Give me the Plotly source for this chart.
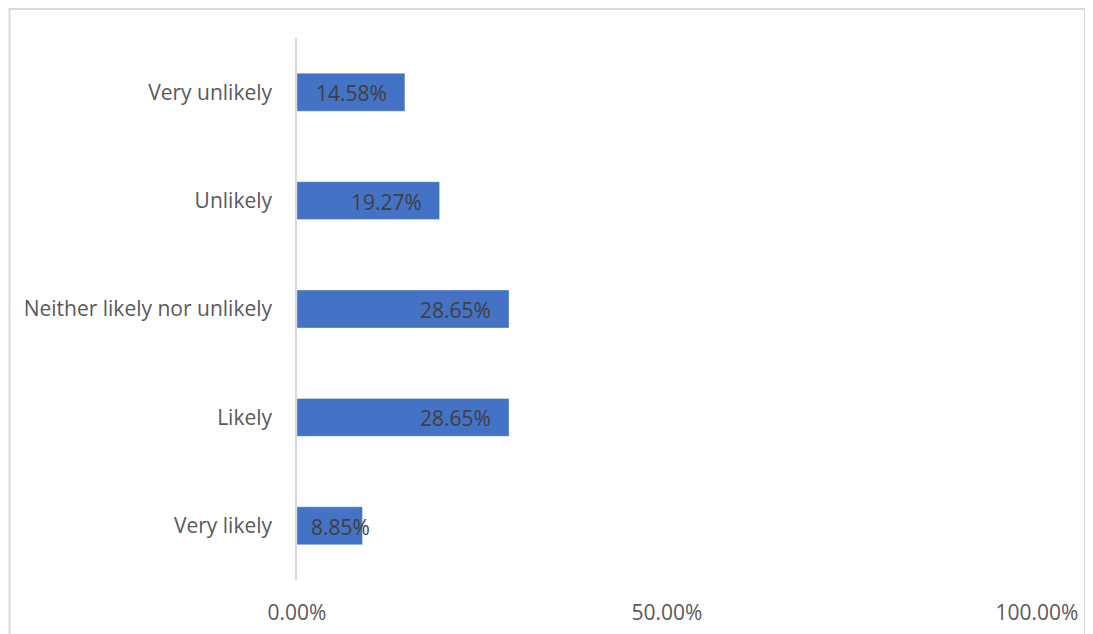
import plotly.graph_objects as go

categories = ["Very unlikely", "Unlikely", "Neither likely nor unlikely", "Likely", "Very likely"]
values = [0.1458, 0.1927, 0.2865, 0.2865, 0.0885]
value_labels = ["14.58%", "19.27%", "28.65%", "28.65%", "8.85%"]
tick_values = [0, 0.5, 1.0]
tick_labels = ["0.00%", "50.00%", "100.00%"]

# style: horizontal pixel offset of each data label from bar end
label_shift = [-16, -16, -16, -16, 10]

FONT = "Open Sans"

fig = go.Figure()
fig.add_trace(go.Bar(
    y=categories,
    x=values,
    orientation="h",
    width=0.35,
    marker=dict(color="#4472C4", line=dict(color="rgba(255,255,255,0.35)", width=1)),
    hoverinfo="skip",
))

for c, v, t, s in zip(categories, values, value_labels, label_shift):
    fig.add_annotation(
        x=v, y=c, xref="x", yref="y", text=t, showarrow=False,
        xanchor="right", yanchor="middle", xshift=s, yshift=-1,
        font=dict(family=FONT, size=21, color="#404040"),
    )

fig.add_shape(
    type="rect", xref="paper", yref="paper",
    x0=-0.3885, x1=1.0649, y0=-0.2, y1=1.0535,
    line=dict(color="#d9d9d9", width=2), layer="below",
)

fig.update_layout(
    width=1085, height=626,
    margin=dict(l=289, r=56, t=30, b=54, autoexpand=False),
    paper_bgcolor="white", plot_bgcolor="white",
    showlegend=False,
    xaxis=dict(
        range=[0, 1], tickvals=tick_values, ticktext=tick_labels,
        showgrid=False, zeroline=False, showline=False, automargin=False,
        tickfont=dict(family=FONT, size=21, color="#595959"),
        ticks="outside", ticklen=14, tickcolor="rgba(0,0,0,0)",
    ),
    yaxis=dict(
        categoryorder="array", categoryarray=categories, autorange="reversed",
        showgrid=False, zeroline=False, showline=True, automargin=False,
        linecolor="#d9d9d9", linewidth=1.5,
        tickfont=dict(family=FONT, size=21, color="#595959"),
        ticks="outside", ticklen=19, tickcolor="rgba(0,0,0,0)",
    ),
)

fig.write_html("out.html")
